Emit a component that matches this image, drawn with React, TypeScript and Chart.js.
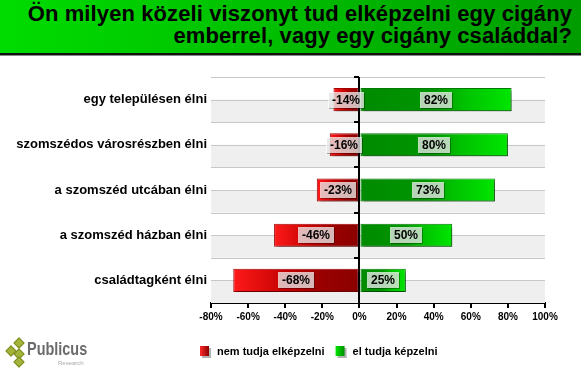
import React, { useEffect, useRef } from "react";
import { Chart, registerables } from "chart.js";

Chart.register(...registerables);

const categories = [
  "egy településen élni",
  "szomszédos városrészben élni",
  "a szomszéd utcában élni",
  "a szomszéd házban élni",
  "családtagként élni",
];
const cannotImagine = [-14, -16, -23, -46, -68];
const canImagine = [82, 80, 73, 50, 25];
const seriesNames = ["nem tudja elképzelni", "el tudja képzelni"];
const titleLines = [
  "Ön milyen közeli viszonyt tud elképzelni egy cigány",
  "emberrel, vagy egy cigány családdal?",
];
const xMin = -80;
const xMax = 100;
const xStep = 20;

const FONT = "'Liberation Sans', Arial, Helvetica, sans-serif";

function redGradient(ctx: any) {
  const chart = ctx.chart;
  const area = chart.chartArea;
  if (!area || ctx.type !== "data") return "#b00000";
  const xs = chart.scales.x;
  const x0 = xs.getPixelForValue(0);
  const x1 = xs.getPixelForValue(ctx.raw);
  const g = chart.ctx.createLinearGradient(x1, 0, x0, 0);
  g.addColorStop(0, "#ff1a1a");
  g.addColorStop(0.45, "#c00000");
  g.addColorStop(0.7, "#990000");
  g.addColorStop(1, "#8a0000");
  return g;
}

function greenGradient(ctx: any) {
  const chart = ctx.chart;
  const area = chart.chartArea;
  if (!area || ctx.type !== "data") return "#00a000";
  const xs = chart.scales.x;
  const x0 = xs.getPixelForValue(0);
  const x1 = xs.getPixelForValue(ctx.raw);
  const g = chart.ctx.createLinearGradient(x0, 0, x1, 0);
  g.addColorStop(0, "#008a00");
  g.addColorStop(0.5, "#009600");
  g.addColorStop(0.68, "#00c000");
  g.addColorStop(1, "#00e600");
  return g;
}

const decorPlugin = {
  id: "decor",
  beforeDatasetsDraw(chart: any) {
    const { ctx, chartArea, scales } = chart;
    const ys = scales.y;
    const n = categories.length;
    const band = (chartArea.bottom - chartArea.top) / n;
    ctx.save();
    ctx.fillStyle = "#efefef";
    for (let i = 0; i < n; i++) {
      const c = ys.getPixelForValue(i);
      ctx.fillRect(chartArea.left, c, chartArea.right - chartArea.left, band / 2);
    }
    ctx.strokeStyle = "#c8c8c8";
    ctx.lineWidth = 1;
    for (let i = 0; i < n; i++) {
      const c = ys.getPixelForValue(i);
      const top = c - band / 2;
      [top, c].forEach((yy) => {
        const y = Math.round(yy) + 0.5;
        ctx.beginPath();
        ctx.moveTo(chartArea.left, y);
        ctx.lineTo(chartArea.right, y);
        ctx.stroke();
      });
    }
    ctx.restore();
    ctx.save();
    ctx.shadowColor = "rgba(0,0,0,0.35)";
    ctx.shadowOffsetX = 3;
    ctx.shadowOffsetY = 3;
    ctx.shadowBlur = 2;
  },
  afterDatasetsDraw(chart: any) {
    const { ctx, chartArea, scales } = chart;
    ctx.restore();
    const xs = scales.x;
    const ys = scales.y;
    const n = categories.length;
    const band = (chartArea.bottom - chartArea.top) / n;
    const x0 = Math.round(xs.getPixelForValue(0));
    ctx.save();
    ctx.strokeStyle = "#000";
    ctx.lineWidth = 2;
    ctx.beginPath();
    ctx.moveTo(x0, chartArea.top);
    ctx.lineTo(x0, chartArea.bottom);
    ctx.stroke();
    for (let i = 0; i < n; i++) {
      const y = Math.round(ys.getPixelForValue(i) - band / 2);
      ctx.beginPath();
      ctx.moveTo(x0 - 5, y);
      ctx.lineTo(x0, y);
      ctx.stroke();
    }
    ctx.font = `bold 12px ${FONT}`;
    ctx.textAlign = "center";
    ctx.textBaseline = "middle";
    chart.data.datasets.forEach((ds: any, di: number) => {
      const meta = chart.getDatasetMeta(di);
      meta.data.forEach((el: any, i: number) => {
        const v = ds.data[i];
        const cx = (el.x + el.base) / 2;
        const cy = el.y;
        const txt = `${v}%`;
        const w = Math.ceil(ctx.measureText(txt).width) + 7;
        const h = 16;
        const bx = Math.round(cx - w / 2);
        const by = Math.round(cy - h / 2);
        ctx.fillStyle = "rgba(0,0,0,0.3)";
        ctx.fillRect(bx + 1, by + 1, w, h);
        ctx.fillStyle = "rgba(255,255,255,0.72)";
        ctx.fillRect(bx, by, w, h);
        ctx.fillStyle = "#000";
        ctx.fillText(txt, bx + w / 2, by + h / 2 + 1);
      });
    });
    const colors = [
      ["#ff2a2a", "#8a0000"],
      ["#00e600", "#008f00"],
    ];
    let lx = 200;
    const ly = 352;
    ctx.textAlign = "left";
    ctx.font = `bold 11px ${FONT}`;
    seriesNames.forEach((name, i) => {
      const g = ctx.createLinearGradient(lx, 0, lx + 9, 0);
      g.addColorStop(0, colors[i][0]);
      g.addColorStop(1, colors[i][1]);
      ctx.fillStyle = "rgba(0,0,0,0.3)";
      ctx.fillRect(lx + 2, ly - 4, 9, 10);
      ctx.fillStyle = g;
      ctx.fillRect(lx, ly - 6, 9, 10);
      ctx.fillStyle = "#000";
      ctx.fillText(name, lx + 17, ly);
      lx += 17 + ctx.measureText(name).width + 11;
    });
    ctx.restore();
  },
};

export default function App() {
  const ref = useRef<HTMLCanvasElement | null>(null);
  useEffect(() => {
    if (!ref.current) return;
    const chart = new Chart(ref.current, {
      type: "bar",
      data: {
        labels: categories,
        datasets: [
          {
            label: seriesNames[0],
            data: cannotImagine,
            backgroundColor: redGradient as any,
            borderColor: "#a00000",
            borderWidth: 1,
            borderSkipped: false,
            barPercentage: 0.51,
            categoryPercentage: 1,
          },
          {
            label: seriesNames[1],
            data: canImagine,
            backgroundColor: greenGradient as any,
            borderColor: "#007a00",
            borderWidth: 1,
            borderSkipped: false,
            barPercentage: 0.51,
            categoryPercentage: 1,
          },
        ],
      },
      options: {
        indexAxis: "y",
        animation: false,
        responsive: false,
        maintainAspectRatio: false,
        layout: { padding: { top: 77, right: 36, left: 0, bottom: 0 } },
        plugins: {
          legend: { display: false },
          title: { display: false },
          tooltip: { enabled: false },
        },
        scales: {
          x: {
            stacked: true,
            min: xMin,
            max: xMax,
            ticks: {
              stepSize: xStep,
              color: "#000",
              font: { family: FONT, size: 10, weight: "bold" },
              padding: 3,
              callback: (v: any) => `${v}%`,
            },
            grid: {
              drawOnChartArea: false,
              color: "#000",
              tickColor: "#000",
              tickLength: 5,
              lineWidth: 2,
            },
            border: { display: true, color: "#000", width: 2 },
            afterFit: (s: any) => {
              s.height = 68;
            },
          },
          y: {
            stacked: true,
            ticks: {
              color: "#000",
              font: { family: FONT, size: 13, weight: "bold" },
              padding: 4,
            },
            grid: { display: false, drawTicks: false },
            border: { display: false },
            afterFit: (s: any) => {
              s.width = 211;
            },
          },
        },
      },
      plugins: [decorPlugin],
    });
    return () => chart.destroy();
  }, []);

  const diamond = (x: number, y: number) => (
    <div
      key={`${x}-${y}`}
      style={{
        position: "absolute",
        left: x,
        top: y,
        width: 6,
        height: 6,
        background: "#a4b43a",
        border: "1px solid #7d8c22",
        transform: "rotate(45deg)",
      }}
    />
  );

  return (
    <div
      style={{
        position: "fixed",
        left: 0,
        top: 0,
        width: 581,
        height: 371,
        background: "#fff",
        overflow: "hidden",
        fontFamily: FONT,
      }}
    >
      <div
        style={{
          position: "absolute",
          left: 0,
          top: 0,
          width: 581,
          height: 53,
          background: "linear-gradient(to right, #00dc00, #009c00)",
          borderBottom: "2px solid #111",
          boxShadow: "0 1px 0 #888",
        }}
      >
        <div
          style={{
            position: "absolute",
            right: 9,
            top: 3,
            textAlign: "right",
            fontWeight: "bold",
            fontSize: 22,
            lineHeight: "22px",
            letterSpacing: 0.1,
            color: "#000",
            whiteSpace: "nowrap",
          }}
        >
          {titleLines.map((l) => (
            <div key={l}>{l}</div>
          ))}
        </div>
      </div>
      <canvas
        ref={ref}
        width={581}
        height={371}
        style={{ position: "absolute", left: 0, top: 0, width: 581, height: 371 }}
      />
      {diamond(15, 339)}
      {diamond(7, 347)}
      {diamond(15, 350)}
      {diamond(15, 358)}
      <div
        style={{
          position: "absolute",
          left: 27,
          top: 338,
          fontWeight: "bold",
          fontSize: 19,
          color: "#6b6b6b",
          transform: "scaleX(0.76)",
          transformOrigin: "left top",
        }}
      >
        Publicus
      </div>
      <div
        style={{
          position: "absolute",
          left: 58,
          top: 360,
          fontSize: 6,
          color: "#aaa",
        }}
      >
        Research
      </div>
    </div>
  );
}
